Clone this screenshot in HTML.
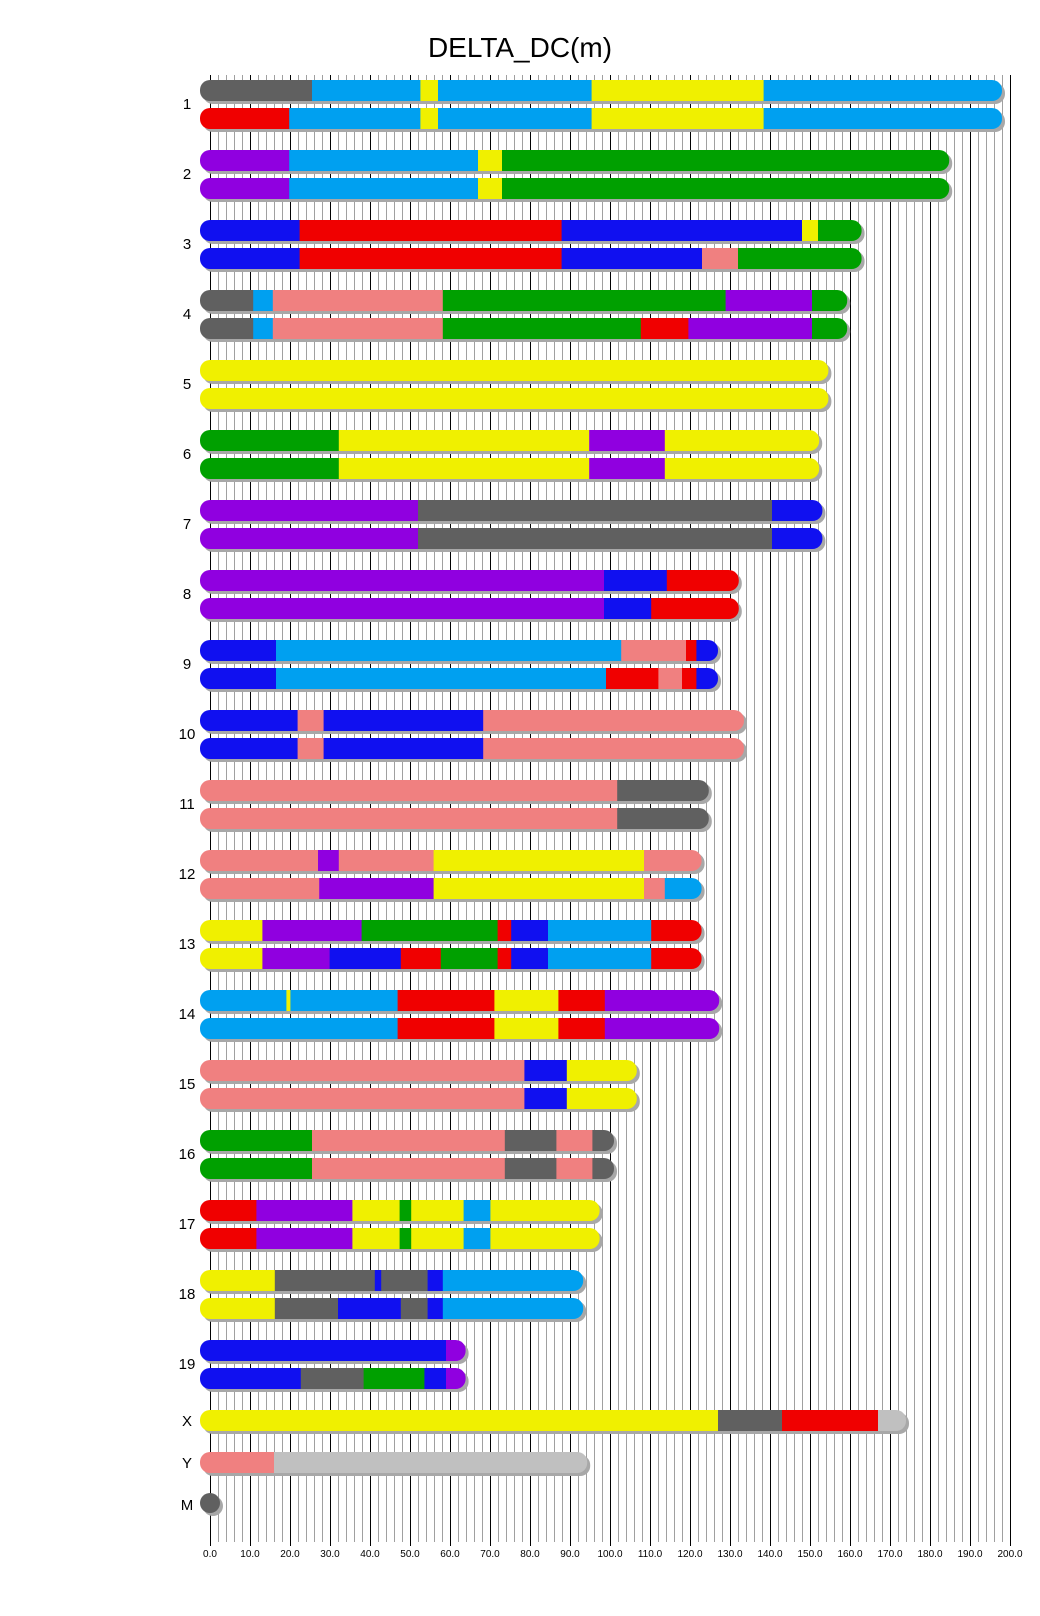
<!DOCTYPE html>
<html><head><meta charset="utf-8"><style>html,body{margin:0;padding:0;background:#fff}svg{display:block}</style></head>
<body>
<svg id="s" width="1040" height="1616" xmlns="http://www.w3.org/2000/svg" font-family="Liberation Sans, sans-serif">
<rect width="1040" height="1616" fill="#fff"/>
<g id="grid"></g>
<g id="bars"></g>
<text x="520" y="57" font-size="28" text-anchor="middle">DELTA_DC(m)</text>
<g font-size="15" text-anchor="middle" fill="#000">
<text x="187" y="109">1</text><text x="187" y="179">2</text><text x="187" y="249">3</text><text x="187" y="319">4</text>
<text x="187" y="389">5</text><text x="187" y="459">6</text><text x="187" y="529">7</text><text x="187" y="599">8</text>
<text x="187" y="669">9</text><text x="187" y="739">10</text><text x="187" y="809">11</text><text x="187" y="879">12</text>
<text x="187" y="949">13</text><text x="187" y="1019">14</text><text x="187" y="1089">15</text><text x="187" y="1159">16</text>
<text x="187" y="1229">17</text><text x="187" y="1299">18</text><text x="187" y="1369">19</text>
<text x="187" y="1426">X</text><text x="187" y="1468">Y</text><text x="187" y="1510">M</text>
</g>
<g font-size="10" text-anchor="middle" fill="#000">
<text x="210" y="1557">0.0</text><text x="250" y="1557">10.0</text><text x="290" y="1557">20.0</text><text x="330" y="1557">30.0</text>
<text x="370" y="1557">40.0</text><text x="410" y="1557">50.0</text><text x="450" y="1557">60.0</text><text x="490" y="1557">70.0</text>
<text x="530" y="1557">80.0</text><text x="570" y="1557">90.0</text><text x="610" y="1557">100.0</text><text x="650" y="1557">110.0</text>
<text x="690" y="1557">120.0</text><text x="730" y="1557">130.0</text><text x="770" y="1557">140.0</text><text x="810" y="1557">150.0</text>
<text x="850" y="1557">160.0</text><text x="890" y="1557">170.0</text><text x="930" y="1557">180.0</text><text x="970" y="1557">190.0</text>
<text x="1010" y="1557">200.0</text>
</g>
</svg>
<script>
var NS="http://www.w3.org/2000/svg";
function el(t,a,p){var e=document.createElementNS(NS,t);for(var k in a)e.setAttribute(k,a[k]);p.appendChild(e);return e;}
var g=document.getElementById('grid');
for(var u=0;u<=200;u+=2){var x=210+u*4;var blk=(u%10===0);
el('line',{x1:x+0.5,x2:x+0.5,y1:75,y2:blk?1546:1542,stroke:blk?'#000':'#a0a0a0','stroke-width':1},g);}
var C={g:'#606060',b:'#00a0f0',y:'#f0f000',r:'#f00000',p:'#9000e0',G:'#00a000',d:'#1010f0',s:'#f08080',l:'#c0c0c0'};
// each: [end, segments "color:end,..."]
var D=[
[198,"g25.5 b52.6 y57 b95.4 y138.4 b198","r19.8 b52.6 y57 b95.4 y138.4 b198"],
[184.8,"p19.8 b67 y73 G184.8","p19.8 b67 y73 G184.8"],
[162.9,"d22.4 r87.9 d148 y152 G162.9","d22.4 r87.9 d123 s132 G162.9"],
[159.3,"g10.8 b15.7 s58.2 G128.9 p150.5 G159.3","g10.8 b15.7 s58.2 G107.7 r119.6 p150.5 G159.3"],
[154.6,"y154.6","y154.6"],
[152.3,"G32.2 y94.8 p113.7 y152.3","G32.2 y94.8 p113.7 y152.3"],
[153.1,"p52 g140.5 d153.1","p52 g140.5 d153.1"],
[132.2,"p98.5 d114.2 r132.2","p98.5 d110.3 r132.2"],
[127,"d16.5 b102.8 s119 r121.6 d127","d16.5 b99 r112.1 s118 r121.6 d127"],
[133.5,"d21.9 s28.4 d68.3 s133.5","d21.9 s28.4 d68.3 s133.5"],
[124.7,"s101.8 g124.7","s101.8 g124.7"],
[122.9,"s27 p32.2 s55.9 y108.5 s122.9","s27.3 p55.9 y108.5 s113.7 b122.9"],
[122.9,"y13.1 p37.9 G71.9 r75.3 d84.5 b110.3 r122.9","y13.1 p29.9 d47.7 r57.7 G71.9 r75.3 d84.5 b110.3 r122.9"],
[127.3,"b19.1 y20.1 b46.9 r71.1 y87.1 r98.7 p127.3","b46.9 r71.1 y87.1 r98.7 p127.3"],
[106.7,"s78.6 d89.2 y106.7","s78.6 d89.2 y106.7"],
[101,"G25.5 s73.7 g86.6 s95.6 g101","G25.5 s73.7 g86.6 s95.6 g101"],
[97.4,"r11.6 p35.6 y47.4 G50.3 y63.4 b70.1 y97.4","r11.6 p35.6 y47.4 G50.3 y63.4 b70.1 y97.4"],
[93.3,"y16.2 g41.2 d42.8 g54.4 d58.2 b93.3","y16.2 g32 d47.7 g54.4 d58.2 b93.3"],
[63.9,"d59 p63.9","d22.7 g38.4 G53.6 d59 p63.9"]
];
var B=document.getElementById('bars');var cid=0;
function bar(top,end,spec){
 var x0=200,x1=210+end*4,h=21;
 el('rect',{x:x0+3,y:top+3,width:x1-x0,height:h,rx:10,ry:10,fill:'#a8a8a8'},B);
 var id='c'+(cid++);var cp=el('clipPath',{id:id},B);
 el('rect',{x:x0,y:top,width:x1-x0,height:h,rx:10,ry:10},cp);
 var gg=el('g',{'clip-path':'url(#'+id+')'},B);
 var prev=x0;spec.split(' ').forEach(function(s){var c=C[s[0]];var e=parseFloat(s.slice(1));var xe=210+e*4;
  el('rect',{x:prev,y:top,width:Math.max(0,xe-prev+0.5),height:h,fill:c},gg);prev=xe;});
}
D.forEach(function(d,i){var t=80+70*i;bar(t,d[0],d[1]);bar(t+28,d[0],d[2]);});
bar(1410,174,"y127 g143 r167 l174");
bar(1452,94.3,"s16 l94.3");
el('circle',{cx:213,cy:1506,r:10,fill:'#a8a8a8'},B);
el('circle',{cx:210,cy:1503,r:10,fill:'#606060'},B);
</script>
</body></html>
